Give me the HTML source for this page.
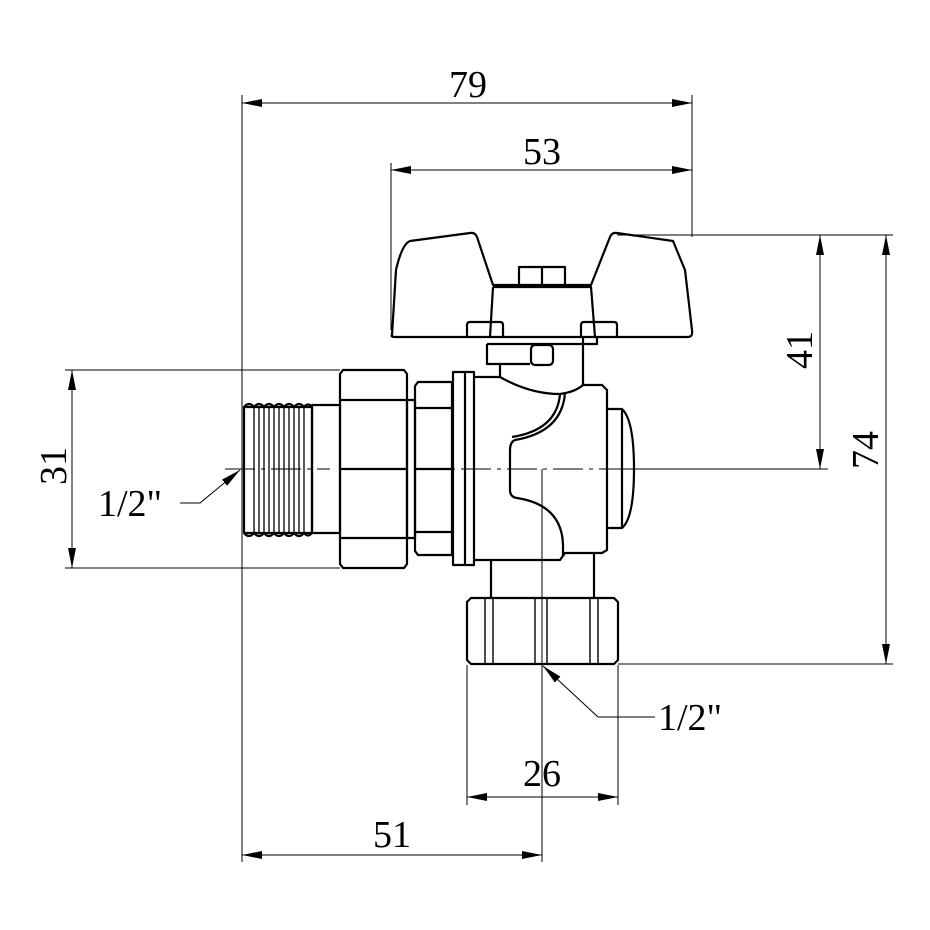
<!DOCTYPE html>
<html><head><meta charset="utf-8"><style>
html,body{margin:0;padding:0;background:#fff;}
svg{display:block;}
text{font-family:"Liberation Serif",serif;font-size:38px;fill:#000;}
</style></head><body>
<svg width="930" height="930" viewBox="0 0 930 930" xmlns="http://www.w3.org/2000/svg">
<defs>
<marker id="a" viewBox="0 0 20 8" refX="20" refY="4" markerWidth="20" markerHeight="8" markerUnits="userSpaceOnUse" orient="auto-start-reverse"><path d="M0,0 L20,4 L0,8 z" fill="#000"/></marker>
</defs>
<!-- thin dimension / extension lines -->
<g stroke="#000" stroke-width="1" fill="none">
<line x1="242" y1="95" x2="242" y2="862"/>
<line x1="692" y1="95" x2="692" y2="237"/>
<line x1="391" y1="163" x2="391" y2="330"/>
<line x1="617" y1="235" x2="893" y2="235"/>
<line x1="618" y1="664" x2="893" y2="664"/>
<line x1="628" y1="469" x2="828" y2="469"/>
<line x1="65" y1="370" x2="340" y2="370"/>
<line x1="65" y1="568" x2="340" y2="568"/>
<line x1="542" y1="469" x2="542" y2="862"/>
<line x1="467" y1="665" x2="467" y2="805"/>
<line x1="618" y1="665" x2="618" y2="805"/>
<line x1="242" y1="103" x2="692" y2="103" marker-start="url(#a)" marker-end="url(#a)"/>
<line x1="391" y1="170" x2="692" y2="170" marker-start="url(#a)" marker-end="url(#a)"/>
<line x1="820" y1="235" x2="820" y2="469" marker-start="url(#a)" marker-end="url(#a)"/>
<line x1="886" y1="235" x2="886" y2="664" marker-start="url(#a)" marker-end="url(#a)"/>
<line x1="72" y1="370" x2="72" y2="568" marker-start="url(#a)" marker-end="url(#a)"/>
<line x1="467" y1="797" x2="618" y2="797" marker-start="url(#a)" marker-end="url(#a)"/>
<line x1="242" y1="855" x2="542" y2="855" marker-start="url(#a)" marker-end="url(#a)"/>
<polyline points="180,503 200,503 240,470" marker-end="url(#a)"/>
<polyline points="655,717 598,717 543,666" marker-end="url(#a)"/>
<line x1="225" y1="469" x2="330" y2="469" stroke-dasharray="30,6,4,6"/>
<line x1="415" y1="469" x2="628" y2="469" stroke-dasharray="30,6,4,6"/>
</g>
<!-- part outlines -->
<g stroke="#000" stroke-width="2.2" fill="none" stroke-linejoin="round">
<!-- thread -->
<rect x="244" y="407" width="68" height="126"/>
<path d="M244,407 q5,-6 10,0 q5,-6 10,0 q5,-6 10,0 q5,-6 10,0 q5,-6 10,0 q5,-6 10,0 q4,-5 8,0"/>
<path d="M244,533 q5,6 10,0 q5,6 10,0 q5,6 10,0 q5,6 10,0 q5,6 10,0 q5,6 10,0 q4,5 8,0"/>
<g stroke-width="1.3">
<line x1="254" y1="407" x2="254" y2="533"/><line x1="259" y1="407" x2="259" y2="533"/>
<line x1="264" y1="407" x2="264" y2="533"/><line x1="269" y1="407" x2="269" y2="533"/>
<line x1="274" y1="407" x2="274" y2="533"/><line x1="279" y1="407" x2="279" y2="533"/>
<line x1="284" y1="407" x2="284" y2="533"/><line x1="289" y1="407" x2="289" y2="533"/>
<line x1="294" y1="407" x2="294" y2="533"/><line x1="299" y1="407" x2="299" y2="533"/>
<line x1="304" y1="407" x2="304" y2="533"/>
</g>
<!-- pipe -->
<rect x="312" y="405" width="28" height="128"/>
<!-- big hex nut -->
<path d="M343,370 H404 L407,374 V564 L404,568 H343 L340,564 V374 Z"/>
<line x1="340" y1="400" x2="407" y2="400"/>
<line x1="340" y1="538" x2="407" y2="538"/>
<line x1="340" y1="469" x2="407" y2="469"/>
<rect x="407" y="400" width="8" height="138"/>
<!-- second hex -->
<path d="M418,382 H452 V555 H418 L415,551 V386 Z"/>
<line x1="415" y1="408" x2="452" y2="408"/>
<line x1="415" y1="532" x2="452" y2="532"/>
<line x1="415" y1="469" x2="452" y2="469"/>
<!-- flange -->
<rect x="453" y="372" width="21" height="193"/>
<line x1="465" y1="372" x2="465" y2="565"/>
<!-- body -->
<path d="M474,377 H500 Q530,394 560,394 Q575,392 583,385 H602 L607,390 V550 L602,553 H565 L560,560 H474"/>
<path d="M565,393 Q562,432 515,440 Q510,442 510,450 V490 Q510,497 517,498 Q562,505 563,545 V555"/>
<path d="M560,394 Q557,430 512,437"/>
<path d="M607,409 H622 Q634,420 634,469 Q634,518 622,528 H607"/>
<line x1="622" y1="409" x2="622" y2="528"/>
<!-- stem -->
<line x1="500" y1="364" x2="500" y2="377"/>
<line x1="583" y1="337" x2="583" y2="385"/>
<path d="M487,344 V364 H530"/>
<rect x="531" y="345" width="22" height="20" rx="4"/>
<path d="M487,344 H597 V337"/>
<!-- handle -->
<path d="M392,335 Q390,337 396,337 H688 Q693,337 692,330 L685,270 L673,241 L617,233 Q612,232 610,237 L591,285 H493 L477,237 Q475,232 470,233 L410,241 Q402,244 396,270 Z"/>
<path d="M493,287 H591 L595,337"/>
<path d="M493,287 L490,337"/>
<path d="M467,337 V325 Q467,322 470,322 H500 Q503,322 503,325 V337"/>
<path d="M581,337 V325 Q581,322 584,322 H614 Q617,322 617,325 V337"/>
<rect x="519" y="267" width="46" height="19"/>
<line x1="542" y1="267" x2="542" y2="286"/>
<!-- lower neck -->
<line x1="491" y1="560" x2="491" y2="598"/>
<line x1="594" y1="553" x2="594" y2="598"/>
<!-- bottom nut -->
<path d="M471,598 H614 L618,602 V660 L614,664 H471 L467,660 V602 Z"/>
<line x1="485" y1="598" x2="485" y2="664" stroke-width="1.4"/>
<line x1="493" y1="598" x2="493" y2="664" stroke-width="1.4"/>
<line x1="535" y1="598" x2="535" y2="664" stroke-width="1.4"/>
<line x1="547" y1="598" x2="547" y2="664" stroke-width="1.4"/>
<line x1="590" y1="598" x2="590" y2="664" stroke-width="1.4"/>
<line x1="598" y1="598" x2="598" y2="664" stroke-width="1.4"/>
</g>
<!-- labels -->
<text x="468" y="97" text-anchor="middle">79</text>
<text x="542" y="164" text-anchor="middle">53</text>
<text x="542" y="786" text-anchor="middle">26</text>
<text x="392" y="847" text-anchor="middle">51</text>
<text x="130" y="516" text-anchor="middle">1/2"</text>
<text x="690" y="730" text-anchor="middle">1/2"</text>
<text transform="translate(812,350) rotate(-90)" text-anchor="middle">41</text>
<text transform="translate(878,450) rotate(-90)" text-anchor="middle">74</text>
<text transform="translate(66,466) rotate(-90)" text-anchor="middle">31</text>
</svg>
</body></html>
